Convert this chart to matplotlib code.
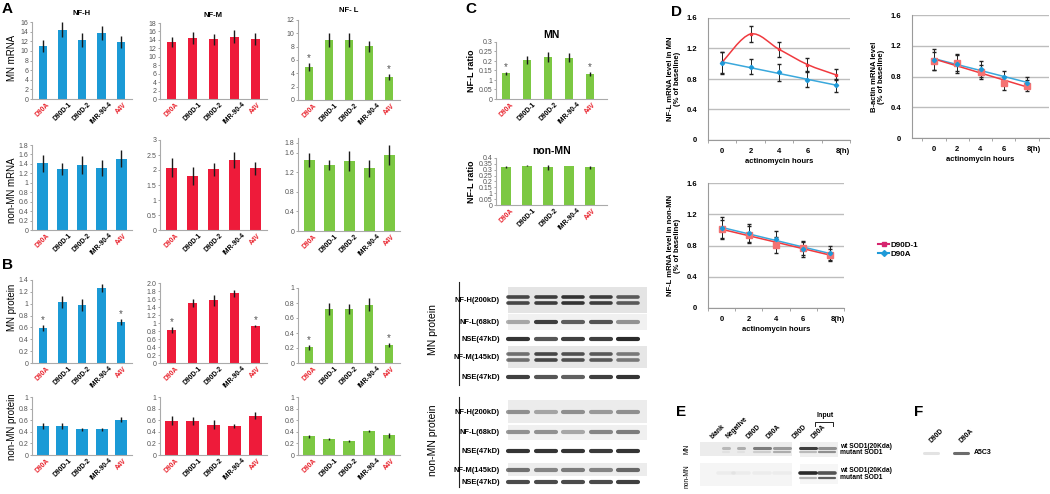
import numpy as np
import matplotlib
matplotlib.use('Agg')
import matplotlib.pyplot as plt
from matplotlib.path import Path
from matplotlib.patches import PathPatch
from matplotlib.lines import Line2D

W, H = 1050, 494
plt.rcParams['font.family'] = ['Liberation Sans', 'DejaVu Sans']

cell_lines = ['D90A', 'D90D-1', 'D90D-2', 'IMR-90-4', 'A4V']
line_colors = ['#e8202a', 'black', 'black', 'black', '#e8202a']
BLUE, RED, GREEN = '#1b9ad6', '#ee1b3a', '#7cc843'

# panel A: mRNA
a_mn_nfh = [11.0, 14.4, 12.3, 13.7, 11.9]
a_mn_nfh_err = [1.25, 1.5, 1.4, 1.5, 1.25]
a_mn_nfm = [13.5, 14.5, 14.1, 14.8, 14.2]
a_mn_nfm_err = [1.3, 1.4, 1.4, 1.6, 1.4]
a_mn_nfl = [5.0, 9.0, 9.0, 8.05, 3.4]
a_mn_nfl_err = [0.6, 1.0, 1.0, 0.8, 0.45]
a_non_nfh = [1.41, 1.29, 1.38, 1.32, 1.51]
a_non_nfh_err = [0.18, 0.12, 0.19, 0.17, 0.18]
a_non_nfm = [2.08, 1.80, 2.02, 2.33, 2.06]
a_non_nfm_err = [0.32, 0.30, 0.22, 0.28, 0.22]
a_non_nfl = [1.45, 1.35, 1.43, 1.28, 1.55]
a_non_nfl_err = [0.14, 0.11, 0.20, 0.18, 0.20]

# panel B: protein
b_mn_nfh = [0.59, 1.03, 0.98, 1.26, 0.69]
b_mn_nfh_err = [0.05, 0.10, 0.10, 0.07, 0.05]
b_mn_nfm = [0.83, 1.50, 1.57, 1.74, 0.92]
b_mn_nfm_err = [0.07, 0.10, 0.14, 0.08, 0.03]
b_mn_nfl = [0.21, 0.72, 0.72, 0.78, 0.24]
b_mn_nfl_err = [0.03, 0.08, 0.07, 0.09, 0.03]
b_non_nfh = [0.50, 0.50, 0.44, 0.44, 0.61]
b_non_nfh_err = [0.06, 0.05, 0.03, 0.03, 0.04]
b_non_nfm = [0.59, 0.59, 0.52, 0.50, 0.68]
b_non_nfm_err = [0.08, 0.07, 0.08, 0.03, 0.06]
b_non_nfl = [0.32, 0.28, 0.24, 0.41, 0.34]
b_non_nfl_err = [0.03, 0.02, 0.02, 0.02, 0.04]

# panel C: NF-L ratio
c_mn = [0.135, 0.205, 0.22, 0.218, 0.133]
c_mn_err = [0.007, 0.022, 0.025, 0.025, 0.010]
c_non = [0.32, 0.335, 0.322, 0.332, 0.322]
c_non_err = [0.008, 0.005, 0.020, 0.004, 0.012]

# panel D: actinomycin time course
hours = ['0', '2', '4', '6', '8(h)']
d1_red = [1.02, 1.39, 1.19, 0.99, 0.855]
d1_red_err = [0.14, 0.10, 0.10, 0.09, 0.07]
d1_blue = [1.01, 0.96, 0.886, 0.79, 0.715]
d1_blue_err = [0.15, 0.10, 0.11, 0.10, 0.09]
d2_red = [1.00, 0.98, 0.86, 0.71, 0.68]
d2_red_err = [0.12, 0.11, 0.09, 0.08, 0.07]
d2_blue = [1.02, 0.96, 0.90, 0.79, 0.72]
d2_blue_err = [0.14, 0.12, 0.10, 0.08, 0.07]
d3_red = [1.01, 0.94, 0.81, 0.77, 0.68]
d3_red_err = [0.12, 0.11, 0.10, 0.09, 0.08]
d3_blue = [1.02, 0.96, 0.885, 0.75, 0.705]
d3_blue_err = [0.14, 0.11, 0.10, 0.10, 0.09]

# western blot band intensities (5 lanes)
blot_labels = ['NF-H(200kD)', 'NF-L(68kD)', 'NSE(47kD)', 'NF-M(145kD)', 'NSE(47kD)']
mn_blot = [[0.80, 0.85, 0.90, 0.85, 0.70], [0.35, 0.85, 0.70, 0.75, 0.45],
           [0.90, 0.75, 0.85, 0.85, 0.95], [0.60, 0.80, 0.75, 0.70, 0.55],
           [0.85, 0.75, 0.70, 0.85, 0.90]]
non_blot = [[0.45, 0.35, 0.45, 0.40, 0.45], [0.45, 0.45, 0.35, 0.50, 0.55],
            [0.90, 0.90, 0.90, 0.88, 0.90], [0.60, 0.50, 0.55, 0.50, 0.65],
            [0.80, 0.80, 0.80, 0.80, 0.85]]
ip_lanes = ['blank', 'Negative', 'D90D', 'D90A', 'D90D', 'D90A']
ip_mn_wt = [0.25, 0.30, 0.55, 0.40, 0.85, 0.45]
ip_mn_mut = [0.05, 0.05, 0.15, 0.30, 0.25, 0.45]
ip_non_wt = [0.04, 0.04, 0.04, 0.04, 0.95, 0.75]
ip_non_mut = [0.0, 0.0, 0.0, 0.0, 0.30, 0.70]
f_lanes = ['D90D', 'D90A']
f_band = [0.12, 0.65]

fig = plt.figure(figsize=(10.5, 4.94), dpi=100)
ov = fig.add_axes([0, 0, 1, 1])
ov.set_xlim(0, W)
ov.set_ylim(H, 0)
ov.axis('off')


def box(l, t, r, b):
    return fig.add_axes([l / W, 1 - b / H, (r - l) / W, (b - t) / H])


def bar_panel(ax, vals, errs, color, ymax, ticks, width, stars=(), xr=(-0.55, 4.55), labels=None):
    x = np.arange(len(vals))
    ax.bar(x, vals, width=width, color=color, edgecolor='none')
    ax.errorbar(x, vals, yerr=errs, fmt='none', ecolor='#1a1a1a', elinewidth=1, capsize=0)
    for i in stars:
        ax.text(x[i], vals[i] + errs[i], '*', ha='center', va='bottom', fontsize=7, color='#555')
    ax.set_xlim(*xr)
    ax.set_ylim(0, ymax)
    ax.set_yticks(ticks)
    ax.set_yticklabels(labels if labels else [f'{t:g}' for t in ticks])
    ax.set_xticks(x)
    ax.set_xticklabels(cell_lines, rotation=45, fontsize=4.8, fontweight='bold')
    for lab, c in zip(ax.get_xticklabels(), line_colors):
        lab.set_color(c)
    ax.tick_params(axis='x', length=0, pad=1.5)
    ax.tick_params(axis='y', length=1.5, width=0.6, color='#999', labelsize=5, labelcolor='#555', pad=1)
    for s in ['top', 'right']:
        ax.spines[s].set_visible(False)
    for s in ['left', 'bottom']:
        ax.spines[s].set_color('#aaa')
        ax.spines[s].set_linewidth(0.8)
    ax.patch.set_alpha(0)


cols = [(32, 132), (160, 267), (298, 400)]

# A row 1
ax = box(32, 22, 132, 99)
bar_panel(ax, a_mn_nfh, a_mn_nfh_err, BLUE, 16, np.arange(0, 17, 2), 0.42)
ax.set_title('NF-H', fontsize=5.5, fontweight='bold', pad=5)
ax = box(160, 23, 267, 99)
bar_panel(ax, a_mn_nfm, a_mn_nfm_err, RED, 18, np.arange(0, 19, 2), 0.42)
ax.set_title('NF-M', fontsize=5.5, fontweight='bold', pad=4)
ax = box(298, 20, 400, 100)
bar_panel(ax, a_mn_nfl, a_mn_nfl_err, GREEN, 12, np.arange(0, 13, 2), 0.42, stars=(0, 4))
ax.set_title('NF- L', fontsize=5.5, fontweight='bold', pad=6)

# A row 2
ax = box(32, 145, 132, 230)
bar_panel(ax, a_non_nfh, a_non_nfh_err, BLUE, 1.8, np.round(np.arange(0, 1.81, 0.2), 1), 0.55)
ax = box(160, 140, 267, 230)
bar_panel(ax, a_non_nfm, a_non_nfm_err, RED, 3, np.arange(0, 3.01, 0.5), 0.55)
ax = box(298, 138, 400, 231)
bar_panel(ax, a_non_nfl, a_non_nfl_err, GREEN, 1.9, [0, 0.4, 0.8, 1.2, 1.6, 1.8], 0.55)

# B row 1
ax = box(32, 280, 132, 363)
bar_panel(ax, b_mn_nfh, b_mn_nfh_err, BLUE, 1.4, np.round(np.arange(0, 1.41, 0.2), 1), 0.42, stars=(0, 4))
ax = box(160, 283, 267, 363)
t = np.round(np.arange(0, 2.01, 0.2), 1)
lab = [f'{v:g}' for v in t]
lab[-1] = '2.0'
bar_panel(ax, b_mn_nfm, b_mn_nfm_err, RED, 2.0, t, 0.42, stars=(0, 4), labels=lab)
ax = box(298, 288, 400, 363)
bar_panel(ax, b_mn_nfl, b_mn_nfl_err, GREEN, 1.0, np.round(np.arange(0, 1.01, 0.2), 1), 0.42, stars=(0, 4))

# B row 2
for (l, r), vals, errs, color in zip(cols, [b_non_nfh, b_non_nfm, b_non_nfl],
                                     [b_non_nfh_err, b_non_nfm_err, b_non_nfl_err], [BLUE, RED, GREEN]):
    ax = box(l, 397, r, 455)
    bar_panel(ax, vals, errs, color, 1.0, np.round(np.arange(0, 1.01, 0.2), 1), 0.62)

# row labels and panel letters
for y, s in [(58, 'MN mRNA'), (190, 'non-MN mRNA'), (307, 'MN protein'), (427, 'non-MN protein')]:
    fig.text(12 / W, 1 - y / H, s, rotation=90, ha='center', va='center', fontsize=7)
for x, y, s in [(7, 9, 'A'), (7, 265, 'B'), (471, 9, 'C'), (677, 12, 'D'), (681, 412, 'E'), (919, 412, 'F')]:
    fig.text(x / W, 1 - y / H, s, ha='center', va='center', fontsize=11, fontweight='bold')

# C bars
ax = box(496, 42, 607, 99)
bar_panel(ax, c_mn, c_mn_err, GREEN, 0.3, [0, 0.05, 0.1, 0.15, 0.2, 0.25, 0.3], 0.4, stars=(0, 4),
          xr=(-0.48, 4.8), labels=['0', '0.05', '1', '0.15', '0.2', '0.25', '0.3'])
ax.set_title('MN', fontsize=7.5, fontweight='bold', pad=3)
ax.set_ylabel('NF-L ratio', fontsize=6.5, fontweight='bold', labelpad=2)
ax = box(496, 158, 607, 205)
bar_panel(ax, c_non, c_non_err, GREEN, 0.4, [0, 0.05, 0.1, 0.15, 0.2, 0.25, 0.3, 0.35, 0.4], 0.48,
          xr=(-0.48, 4.8), labels=['0', '0.05', '1', '0.15', '0.2', '0.25', '0.3', '0.35', '0.4'])
ax.set_title('non-MN', fontsize=7.5, fontweight='bold', pad=3)
ax.set_ylabel('NF-L ratio', fontsize=6.5, fontweight='bold', labelpad=2)

# C western blots
lane_x = np.linspace(518, 628, 5)
mn_rows = [300, 322, 339, 357, 377]
non_rows = [412, 432, 451, 470, 482]
mn_bg = [(287, 313, '#e4e4e4'), (314, 330, '#f1f1f1'), (346, 368, '#e6e6e6')]
non_bg = [(400, 423, '#ececec'), (425, 440, '#f0f0f0'), (463, 476, '#ececec')]
for y0, y1, c in mn_bg + non_bg:
    ov.fill_between([508, 647], y0, y1, color=c, lw=0)
double = [True, False, False, True, False]
for rows, blot in [(mn_rows, mn_blot), (non_rows, non_blot)]:
    for k, (y, ints) in enumerate(zip(rows, blot)):
        for x, a in zip(lane_x, ints):
            if double[k] and rows is mn_rows:
                for dy in (-3, 3):
                    ov.plot([x - 10, x + 10], [y + dy, y + dy], color='#1e1e1e', alpha=a, lw=2.6,
                            solid_capstyle='round')
            else:
                ov.plot([x - 10, x + 10], [y, y], color='#1e1e1e', alpha=a, lw=3.0, solid_capstyle='round')
        ov.text(500, y, blot_labels[k], ha='right', va='center', fontsize=5.4, fontweight='bold')
ov.plot([459, 459], [282, 385], color='#222', lw=0.8)
ov.plot([459, 459], [397, 487], color='#222', lw=0.8)
ov.text(433, 330, 'MN protein', rotation=90, ha='center', va='center', fontsize=7.5)
ov.text(433, 440, 'non-MN protein', rotation=90, ha='center', va='center', fontsize=7.5)


# D line charts
def catmull(xs, ys):
    p = np.column_stack([xs, ys]).astype(float)
    ext = np.vstack([p[0], p, p[-1]])
    verts, codes = [p[0]], [Path.MOVETO]
    for i in range(1, len(ext) - 2):
        c1 = ext[i] + (ext[i + 1] - ext[i - 1]) / 6
        c2 = ext[i + 1] - (ext[i + 2] - ext[i]) / 6
        verts += [c1, c2, ext[i + 1]]
        codes += [Path.CURVE4] * 3
    return Path(verts, codes)


def line_panel(ax, red, red_err, blue, blue_err, xr, smooth_red=False, red_marker='s', ylabel=''):
    x = np.arange(len(red))
    ax.set_xlim(*xr)
    ax.set_ylim(0, 1.6)
    ax.set_yticks([0, 0.4, 0.8, 1.2, 1.6])
    ax.set_yticklabels(['0', '0.4', '0.8', '1.2', '1.6'])
    ax.yaxis.grid(True, color='#bdbdbd', lw=1)
    ax.set_axisbelow(True)
    fb = np.polyfit(x, blue, 1)
    ax.plot(x, np.polyval(fb, x), color='#3aa8dc', lw=1.1, zorder=2)
    if smooth_red:
        ax.add_patch(PathPatch(catmull(x, red), fill=False, edgecolor='#f03a3f', lw=1.1, zorder=2))
    else:
        fr = np.polyfit(x, red, 1)
        ax.plot(x, np.polyval(fr, x), color='#f03a3f', lw=1.1, zorder=2)
    ax.errorbar(x, blue, yerr=blue_err, fmt='none', ecolor='#222', elinewidth=0.7, capsize=1.2, zorder=3)
    ax.errorbar(x, red, yerr=red_err, fmt='none', ecolor='#222', elinewidth=0.7, capsize=1.2, zorder=3)
    if red_marker == 's':
        ax.plot(x, red, 's', ms=4.2, color='#f47272', zorder=4)
    else:
        ax.plot(x, red, 's', ms=1.8, color='#f03a3f', zorder=4)
    ax.plot(x, blue, 'D', ms=2.2, color='#1f9ad8', zorder=4)
    ax.set_xticks(x)
    ax.set_xticklabels(hours, fontsize=5.5, fontweight='bold')
    ax.set_xticks(np.arange(-0.5, 4.6, 1), minor=True)
    ax.tick_params(axis='x', which='major', length=0, pad=6)
    ax.tick_params(axis='x', which='minor', length=2.5, color='#999')
    ax.tick_params(axis='y', length=0, labelsize=5.5, pad=8)
    for lab in ax.get_yticklabels():
        lab.set_fontweight('bold')
    last = ax.get_xticklabels()[-1]
    last.set_ha('left')
    last.set_x(last.get_position()[0] - 0.08)
    for s in ['top', 'right']:
        ax.spines[s].set_visible(False)
    for s in ['left', 'bottom']:
        ax.spines[s].set_color('#9a9a9a')
    ax.set_xlabel('actinomycin hours', fontsize=5.5, fontweight='bold', labelpad=2)
    ax.set_ylabel(ylabel, fontsize=5.5, fontweight='bold', labelpad=4, linespacing=1.0)
    ax.patch.set_alpha(0)


ax = box(708, 18, 850, 140)
line_panel(ax, d1_red, d1_red_err, d1_blue, d1_blue_err, (-0.5, 4.5), smooth_red=True, red_marker='+',
           ylabel='NF-L mRNA level in MN\n(% of baseline)')
ax = box(912, 15, 1049, 138)
line_panel(ax, d2_red, d2_red_err, d2_blue, d2_blue_err, (-0.95, 4.95),
           ylabel='B-actin mRNA level\n(% of baseline)')
ax = box(708, 183, 844, 308)
line_panel(ax, d3_red, d3_red_err, d3_blue, d3_blue_err, (-0.45, 4.5),
           ylabel='NF-L mRNA level in non-MN\n(% of baseline)')

handles = [Line2D([], [], color='#d6246e', marker='s', ms=3.5, lw=1.5),
           Line2D([], [], color='#1f9ad8', marker='D', ms=3, lw=1.5)]
fig.legend(handles, ['D90D-1', 'D90A'], loc='upper left', bbox_to_anchor=(874 / W, 1 - 237 / H),
           frameon=False, prop={'size': 5.8, 'weight': 'bold'}, handlelength=1.4, handletextpad=0.2,
           labelspacing=0.15, borderpad=0)

# E: immunoprecipitation blot
ip_x = [726, 741, 762, 782, 808, 827]
ov.fill_between([700, 792], 442, 456, color='#ececec', lw=0)
ov.fill_between([800, 838], 442, 457, color='#efefef', lw=0)
ov.fill_between([700, 792], 463, 486, color='#f5f5f5', lw=0)
ov.fill_between([800, 838], 464, 484, color='#f6f6f6', lw=0)
for i, (x, name) in enumerate(zip(ip_x, ip_lanes)):
    w = 3 if i < 2 else 8
    ov.plot([x - w, x + w], [448, 448], color='#1e1e1e', alpha=ip_mn_wt[i], lw=2.2, solid_capstyle='round')
    ov.plot([x - w, x + w], [452, 452], color='#1e1e1e', alpha=ip_mn_mut[i], lw=1.6, solid_capstyle='round')
    ov.plot([x - 8, x + 8], [473, 473], color='#1e1e1e', alpha=ip_non_wt[i], lw=2.6, solid_capstyle='round')
    ov.plot([x - 8, x + 8], [478, 478], color='#1e1e1e', alpha=ip_non_mut[i], lw=1.6, solid_capstyle='round')
    ov.text(x - 12, 440, name, rotation=45, rotation_mode='anchor', ha='left', va='bottom',
            fontsize=4.8, fontweight='bold')
ov.text(825, 415, 'Input', ha='center', va='center', fontsize=5, fontweight='bold')
ov.plot([815, 815, 833, 833], [426, 421.5, 421.5, 426], color='#222', lw=0.7)
for y, s in [(446.5, 'wt SOD1(20Kda)'), (452.5, 'mutant SOD1'), (470.5, 'wt SOD1(20Kda)'), (477, 'mutant SOD1')]:
    ov.text(840, y, s, ha='left', va='center', fontsize=4.8, fontweight='bold')
ov.text(687, 449, 'MN', rotation=90, ha='center', va='center', fontsize=4.8)
ov.text(687, 476, 'non-MN', rotation=90, ha='center', va='center', fontsize=4.8)

# F
f_x = [931, 961]
for x, name, a in zip(f_x, f_lanes, f_band):
    ov.plot([x - 7, x + 7], [452.5, 452.5], color='#1e1e1e', alpha=a, lw=2.2, solid_capstyle='round')
    ov.text(x + 2, 444, name, rotation=45, rotation_mode='anchor', ha='left', va='bottom',
            fontsize=4.8, fontweight='bold')
ov.text(974, 452.5, 'A5C3', ha='left', va='center', fontsize=5, fontweight='bold')

fig.savefig('out.png', dpi=100)
